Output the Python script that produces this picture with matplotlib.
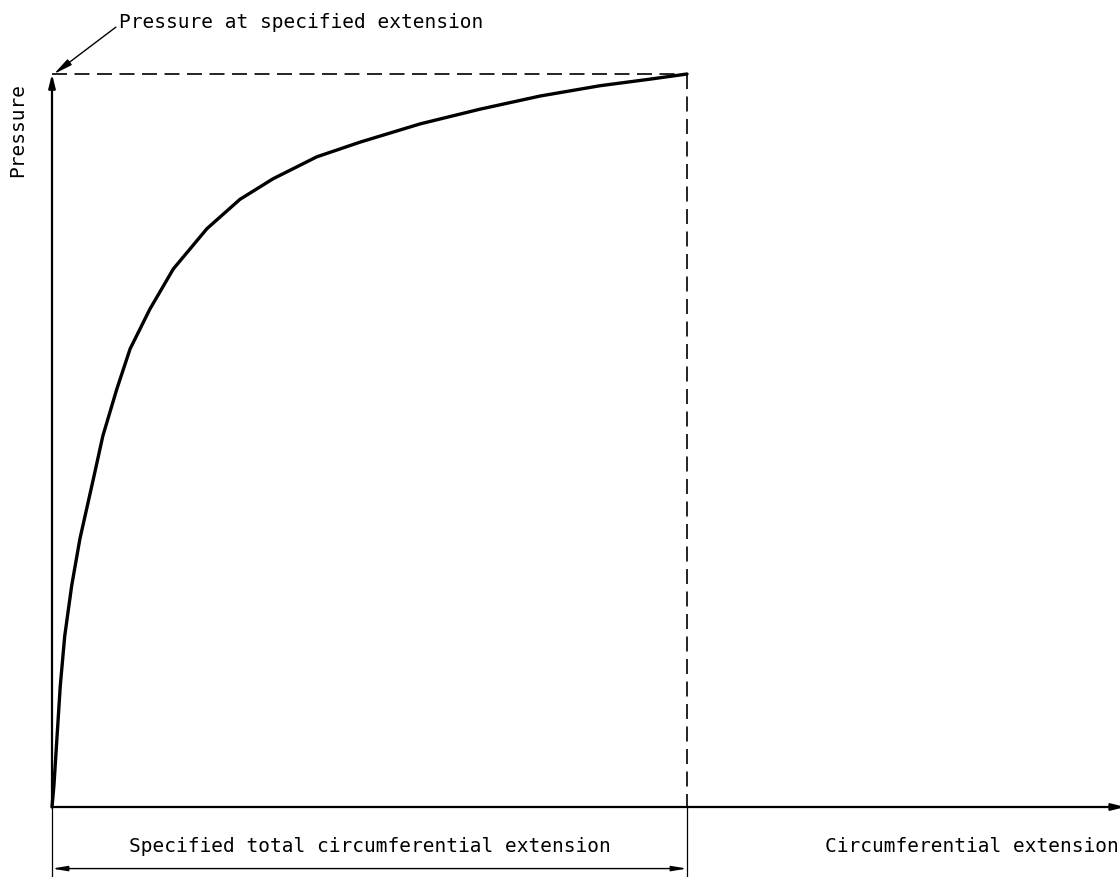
import numpy as np
import matplotlib.pyplot as plt

# curve, extension and pressure both scaled to 1 at the specified point
ext = [0.0, 0.003, 0.008, 0.013, 0.020, 0.031, 0.044, 0.065, 0.080, 0.102, 0.123, 0.154,
       0.191, 0.244, 0.296, 0.348, 0.417, 0.485, 0.580, 0.674, 0.769, 0.863, 0.942, 1.0]
pres = [0.0, 0.029, 0.097, 0.165, 0.233, 0.302, 0.366, 0.447, 0.506, 0.570, 0.625, 0.679,
        0.734, 0.789, 0.829, 0.857, 0.887, 0.907, 0.932, 0.952, 0.970, 0.984, 0.993, 1.0]

x_spec = 1.0
p_spec = 1.0

fig = plt.figure(figsize=(11.2, 8.78), dpi=100)
ax = fig.add_axes([0, 0, 1, 1])
ax.set_xlim(-52 / 635, (1120 - 52) / 635)
ax.set_ylim(-(878 - 808) / 733, 808 / 733)
ax.axis("off")

font = dict(family="DejaVu Sans Mono", fontsize=14)

# axes with arrows
ax.annotate("", xy=(0, p_spec), xytext=(0, 0), annotation_clip=False,
            arrowprops=dict(arrowstyle="-|>,head_length=0.8,head_width=0.2", lw=1.6, color="black",
                            shrinkA=0, shrinkB=0))
ax.annotate("", xy=(1.69, 0), xytext=(0, 0), annotation_clip=False,
            arrowprops=dict(arrowstyle="-|>,head_length=0.8,head_width=0.2", lw=1.6, color="black",
                            shrinkA=0, shrinkB=0))

# dashed reference lines
ax.plot([0, x_spec], [p_spec, p_spec], color="black", lw=1.2, dashes=(9, 4.5))
ax.plot([x_spec, x_spec], [p_spec, 0], color="black", lw=1.2, dashes=(9, 4.5))

# curve
ax.plot(ext, pres, color="black", lw=2.4, solid_capstyle="round", solid_joinstyle="round")

# extension lines and dimension
ax.plot([0, 0], [0, -0.1], color="black", lw=0.9)
ax.plot([x_spec, x_spec], [0, -0.1], color="black", lw=0.9)
ax.annotate("", xy=(0, -0.084), xytext=(x_spec, -0.084),
            arrowprops=dict(arrowstyle="<|-|>,head_length=0.9,head_width=0.15", lw=1.0, color="black",
                            shrinkA=0, shrinkB=0))
ax.text(x_spec / 2, -0.053, "Specified total circumferential extension", ha="center", va="center", **font)
ax.text(1.68, -0.053, "Circumferential extension", ha="right", va="center", **font)

# labels
ax.text(-0.054, 0.925, "Pressure", rotation=90, ha="center", va="center", **font)
ax.annotate("Pressure at specified extension", xy=(0.003, p_spec), xytext=(0.105, 1.072),
            ha="left", va="center", **font,
            arrowprops=dict(arrowstyle="-|>,head_length=0.8,head_width=0.15", lw=1.0, color="black",
                            shrinkA=0, shrinkB=0, relpos=(0, 0.3)))

plt.savefig("out.png", dpi=100)
